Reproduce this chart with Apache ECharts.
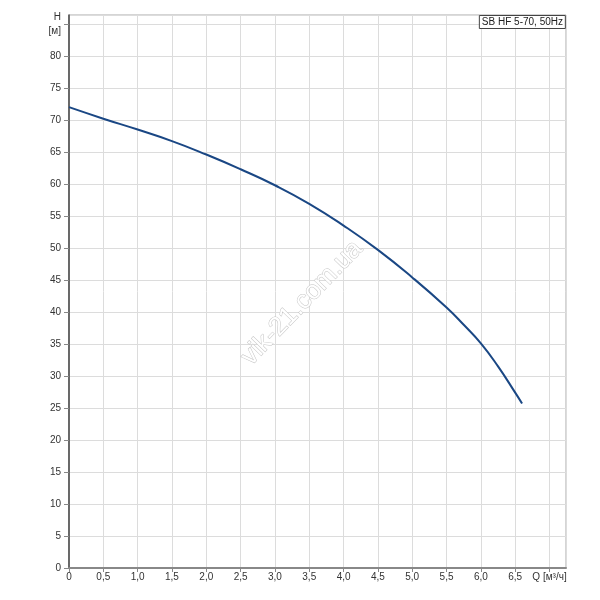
<!DOCTYPE html>
<html>
<head>
<meta charset="utf-8">
<script src="https://cdn.jsdelivr.net/npm/echarts@6/dist/echarts.min.js"></script>
<style>html,body{margin:0;padding:0;background:#fff}#c{width:600px;height:600px}</style>
</head>
<body>
<div id="c"></div>
<script>
var flowQ = [0, 0.5, 1.0, 1.5, 2.0, 2.5, 3.0, 3.5, 4.0, 4.5, 5.0, 5.5, 5.75, 6.0, 6.25, 6.5, 6.6];
var headH = [72, 70.2, 68.5, 66.7, 64.6, 62.3, 59.8, 56.9, 53.5, 49.7, 45.4, 40.7, 38.0, 35.1, 31.5, 27.4, 25.7];
var seriesName = 'SB HF 5-70, 50Hz';
var xAxisTitle = 'Q [м³/ч]';
var yAxisTitle = 'H\n[м]';

var chart = echarts.init(document.getElementById('c'));
var pts = flowQ.map(function (q, i) { return [q, headH[i]]; });
chart.setOption({
  animation: false,
  title: {
    text: seriesName,
    right: 34, top: 15,
    padding: [2, 3, 2, 3],
    borderColor: '#444', borderWidth: 1,
    backgroundColor: '#fff',
    textStyle: { fontSize: 10, fontWeight: 'normal', color: '#222', fontFamily: 'Liberation Sans, Arial, sans-serif' }
  },
  grid: { left: 69, right: 34, top: 15, bottom: 32, show: true, borderColor: '#aaa', borderWidth: 1, backgroundColor: 'transparent' },
  graphic: [{
    type: 'text',
    x: 302, y: 303,
    rotation: Math.PI * 46 / 180,
    style: {
      text: 'vik-21.com.ua',
      font: '26px "Liberation Sans", Arial, sans-serif',
      fill: '#ffffff',
      stroke: '#c4c4c4',
      lineWidth: 1,
      align: 'center',
      verticalAlign: 'middle'
    },
    z: 100
  }],
  xAxis: {
    type: 'value', min: 0, max: 7.24, interval: 0.5,
    axisLine: { show: true, lineStyle: { color: '#888', width: 2 } },
    axisTick: { show: true, length: 4, lineStyle: { color: '#888' } },
    splitLine: { show: true, lineStyle: { color: '#dcdcdc', width: 1 } },
    axisLabel: {
      fontSize: 10, color: '#333', margin: 4, showMaxLabel: false,
      fontFamily: 'Liberation Sans, Arial, sans-serif',
      formatter: function (v) {
        if (Math.abs(v - 7) < 1e-6) return xAxisTitle;
        if (v === 0) return '0';
        return v.toFixed(1).replace('.', ',');
      }
    }
  },
  yAxis: {
    type: 'value', min: 0, max: 86.4, interval: 5,
    axisLine: { show: true, lineStyle: { color: '#444', width: 1.5 } },
    axisTick: { show: true, length: 5, lineStyle: { color: '#888' } },
    splitLine: { show: true, lineStyle: { color: '#dcdcdc', width: 1 } },
    axisLabel: {
      fontSize: 10, color: '#333', margin: 8, showMaxLabel: false,
      fontFamily: 'Liberation Sans, Arial, sans-serif',
      lineHeight: 14,
      formatter: function (v) {
        if (v === 85) return yAxisTitle;
        return String(v);
      }
    }
  },
  series: [{
    name: seriesName,
    type: 'line',
    data: pts,
    smooth: 0.5,
    showSymbol: false,
    lineStyle: { color: '#1a4784', width: 2 },
    z: 5
  }]
});
</script>
</body>
</html>
